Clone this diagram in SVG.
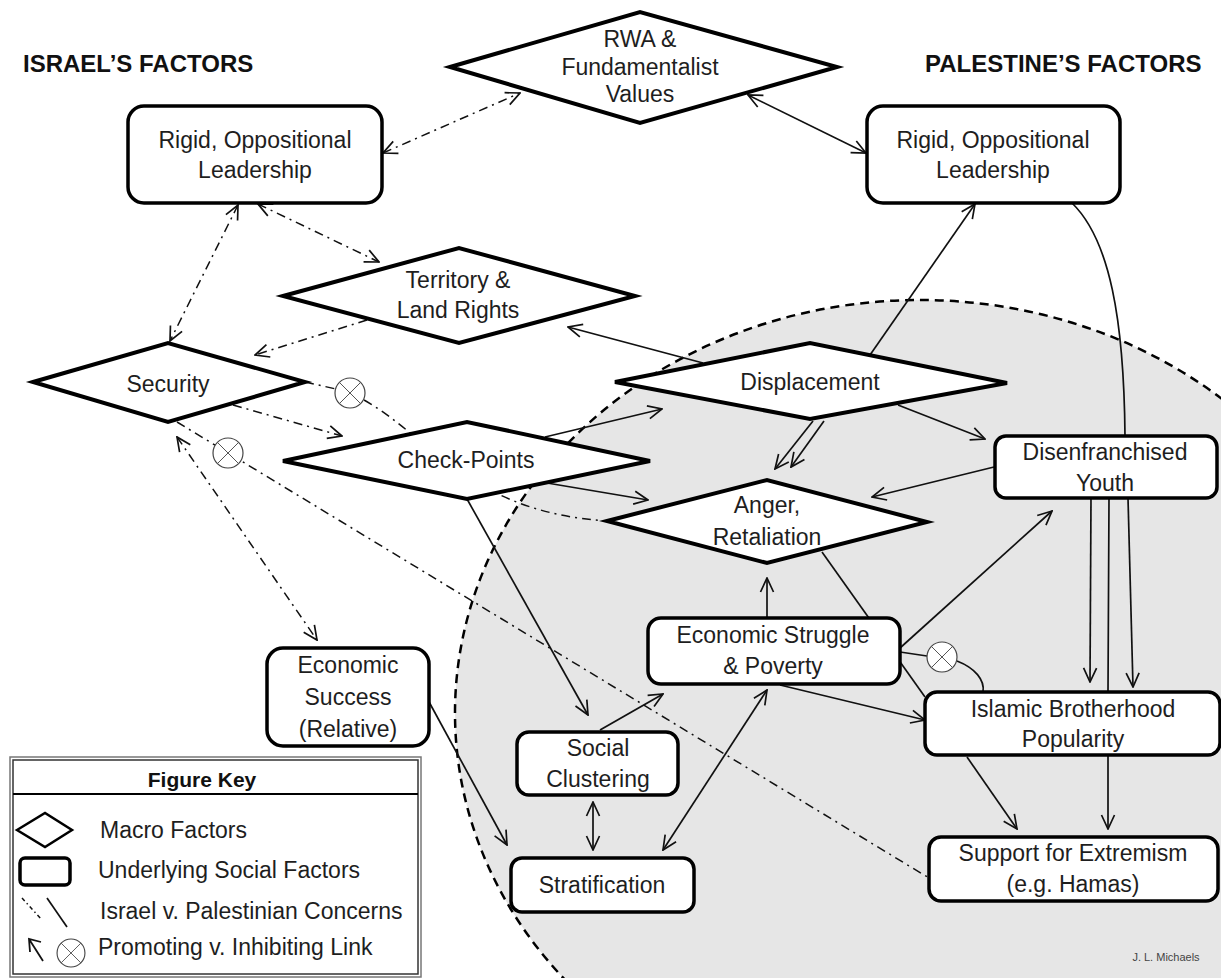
<svg xmlns="http://www.w3.org/2000/svg" xmlns:xlink="http://www.w3.org/1999/xlink" width="1221" height="978" viewBox="0 0 1221 978">
<style>
.t{font-family:"Liberation Sans",Arial,sans-serif;font-size:23px;fill:#1e1e1e;text-anchor:middle}
.tl{font-family:"Liberation Sans",Arial,sans-serif;font-size:23px;fill:#1e1e1e}
.h{font-family:"Liberation Sans",Arial,sans-serif;font-size:24px;font-weight:bold;fill:#111}
.dia{fill:#fff;stroke:#000;stroke-width:4;stroke-linejoin:miter}
.box{fill:#fff;stroke:#000;stroke-width:3.5}
.dd{fill:none;stroke:#111;stroke-width:1.5;stroke-dasharray:9,5,2,5}
.sl{fill:none;stroke:#111;stroke-width:1.7}
.ea{marker-end:url(#arr)}
.ba{marker-start:url(#arr);marker-end:url(#arr)}
</style>
<defs>
<marker id="arr" viewBox="0 0 16 16" refX="15" refY="8" markerWidth="16" markerHeight="16" markerUnits="userSpaceOnUse" orient="auto-start-reverse">
<path d="M1,1.5 L15,8 L1,14.5" fill="none" stroke="#111" stroke-width="1.7"/>
</marker>
<g id="inhib">
<circle r="15" fill="#fff" stroke="#444" stroke-width="1.2"/>
<path d="M-10.6,-10.6 L10.6,10.6 M-10.6,10.6 L10.6,-10.6" stroke="#555" stroke-width="1"/>
</g>
</defs>
<rect width="1221" height="978" fill="#fff"/>
<ellipse id="region" cx="920" cy="713" rx="465" ry="413" fill="#e6e6e6" stroke="#000" stroke-width="2.5" stroke-dasharray="9,6"/>
<text class="h" x="23" y="72">ISRAEL’S FACTORS</text>
<text class="h" x="925" y="72">PALESTINE’S FACTORS</text>
<g id="connectors">
<path class="dd ba" d="M383,153 L520,93"/>
<path class="dd ba" d="M238,205 L170,341"/>
<path class="dd ba" d="M258,204 L379,262"/>
<path class="dd ea" d="M367,320 L255,355"/>
<path class="dd ea" d="M233,405 L342,436"/>
<path class="dd" d="M305,382 L336,389"/>
<path class="dd" d="M364,400 C430,437 470,512 607,521"/>
<use xlink:href="#inhib" x="350" y="393"/>
<path class="dd" d="M177,422 L929,878"/>
<use xlink:href="#inhib" x="228" y="453"/>
<path class="dd ba" d="M177,437 L317,640"/>
<path class="sl ba" d="M748,95 L866,153"/>
<path class="sl ea" d="M870,355 L975,204"/>
<path class="sl" d="M1072,203 C1110,240 1124,320 1125,436 L1109,498 L1108,692"/>
<path class="sl ea" d="M813,421 L775,469"/>
<path class="sl ea" d="M824,421 L791,467"/>
<path class="sl ea" d="M703,363 L568,327"/>
<path class="sl ea" d="M545,437 L662,409"/>
<path class="sl ea" d="M547,483 L648,500"/>
<path class="sl ea" d="M467,499 L588,715"/>
<path class="sl ea" d="M898,405 L985,439"/>
<path class="sl ea" d="M994,467 L872,497"/>
<path class="sl ea" d="M900,648 L1052,511"/>
<path class="sl ea" d="M767,618 L767,578"/>
<path class="sl" d="M822,552 L925,697"/>
<path class="sl" d="M900,652 L927,656"/>
<path class="sl" d="M957,661 C975,668 985,680 983,692"/>
<use xlink:href="#inhib" x="942" y="657"/>
<path class="sl ea" d="M780,685 L925,720"/>
<path class="sl ea" d="M600,730 L663,694"/>
<path class="sl ba" d="M593,802 L593,850"/>
<path class="sl ba" d="M663,850 L767,690"/>
<path class="sl ea" d="M428,700 L507,845"/>
<path class="sl ea" d="M967,757 L1017,829"/>
<path class="sl ea" d="M1108,755 L1108,829"/>
<path class="sl ea" d="M1091,498 L1090,682"/>
<path class="sl ea" d="M1128,498 L1133,687"/>
</g>
<g id="rwa">
<polygon class="dia" points="450,67 640,12 837,67 640,123"/>
<text class="t" x="640" y="47">RWA &amp;</text>
<text class="t" x="640" y="75">Fundamentalist</text>
<text class="t" x="640" y="102">Values</text>
</g>
<g id="isr-leadership">
<rect class="box" x="128" y="106" width="254" height="97" rx="16"/>
<text class="t" x="255" y="148">Rigid, Oppositional</text>
<text class="t" x="255" y="178">Leadership</text>
</g>
<g id="pal-leadership">
<rect class="box" x="867" y="106" width="253" height="97" rx="16"/>
<text class="t" x="993" y="148">Rigid, Oppositional</text>
<text class="t" x="993" y="178">Leadership</text>
</g>
<g id="territory">
<polygon class="dia" points="283,296 459,248 635,296 459,343"/>
<text class="t" x="458" y="288">Territory &amp;</text>
<text class="t" x="458" y="318">Land Rights</text>
</g>
<g id="security">
<polygon class="dia" points="33,382 168,343 305,382 168,422"/>
<text class="t" x="168" y="392">Security</text>
</g>
<g id="checkpoints">
<polygon class="dia" points="283,461 467,422 650,461 467,499"/>
<text class="t" x="466" y="468">Check-Points</text>
</g>
<g id="displacement">
<polygon class="dia" points="615,382 810,343 1007,383 810,419"/>
<text class="t" x="810" y="390">Displacement</text>
</g>
<g id="anger">
<polygon class="dia" points="607,521 767,480 927,522 767,563"/>
<text class="t" x="767" y="513">Anger,</text>
<text class="t" x="767" y="545">Retaliation</text>
</g>
<g id="youth">
<rect class="box" x="995" y="436" width="222" height="62" rx="11"/>
<text class="t" x="1105" y="460">Disenfranchised</text>
<text class="t" x="1105" y="491">Youth</text>
</g>
<g id="econ-struggle">
<rect class="box" x="648" y="618" width="252" height="66" rx="13"/>
<text class="t" x="773" y="643">Economic Struggle</text>
<text class="t" x="773" y="674">&amp; Poverty</text>
</g>
<g id="islamic">
<rect class="box" x="925" y="692" width="295" height="63" rx="12"/>
<text class="t" x="1073" y="717">Islamic Brotherhood</text>
<text class="t" x="1073" y="747">Popularity</text>
</g>
<g id="extremism">
<rect class="box" x="929" y="837" width="289" height="64" rx="12"/>
<text class="t" x="1073" y="861">Support for Extremism</text>
<text class="t" x="1073" y="892">(e.g. Hamas)</text>
</g>
<g id="econ-success">
<rect class="box" x="267" y="648" width="162" height="98" rx="16"/>
<text class="t" x="348" y="673">Economic</text>
<text class="t" x="348" y="705">Success</text>
<text class="t" x="348" y="737">(Relative)</text>
</g>
<g id="social-clustering">
<rect class="box" x="517" y="732" width="161" height="63" rx="12"/>
<text class="t" x="598" y="756">Social</text>
<text class="t" x="598" y="787">Clustering</text>
</g>
<g id="stratification">
<rect class="box" x="511" y="858" width="183" height="54" rx="11"/>
<text class="t" x="602" y="893">Stratification</text>
</g>
<g id="key">
<rect x="10" y="757" width="411" height="220" fill="#fff" stroke="#777" stroke-width="1.5"/>
<rect x="13" y="760" width="405" height="214" fill="none" stroke="#333" stroke-width="1.5"/>
<line x1="13" y1="794" x2="418" y2="794" stroke="#000" stroke-width="2"/>
<text x="202" y="787" font-family="Liberation Sans,Arial,sans-serif" font-size="21" font-weight="bold" fill="#111" text-anchor="middle">Figure Key</text>
<polygon points="17,830 45,813 72,830 45,847" fill="#fff" stroke="#000" stroke-width="2.5"/>
<text class="tl" x="100" y="838">Macro Factors</text>
<rect x="20" y="858" width="50" height="27" rx="5" fill="#fff" stroke="#000" stroke-width="3.5"/>
<text class="tl" x="98" y="878">Underlying Social Factors</text>
<path d="M22,898 L42,920" fill="none" stroke="#111" stroke-width="1.5" stroke-dasharray="4,3,1.5,3"/>
<path d="M47,898 L67,927" fill="none" stroke="#111" stroke-width="1.7"/>
<text class="tl" x="100" y="919">Israel v. Palestinian Concerns</text>
<path d="M43,961 L29,939 M41,942 L29,939 L30,952" fill="none" stroke="#111" stroke-width="1.8"/>
<g transform="translate(71,953) scale(0.93)"><use xlink:href="#inhib"/></g>
<text class="tl" x="98" y="955">Promoting v. Inhibiting Link</text>
</g>
<text x="1166" y="961" font-family="Liberation Sans,Arial,sans-serif" font-size="11" fill="#444" text-anchor="middle">J. L. Michaels</text>
</svg>
